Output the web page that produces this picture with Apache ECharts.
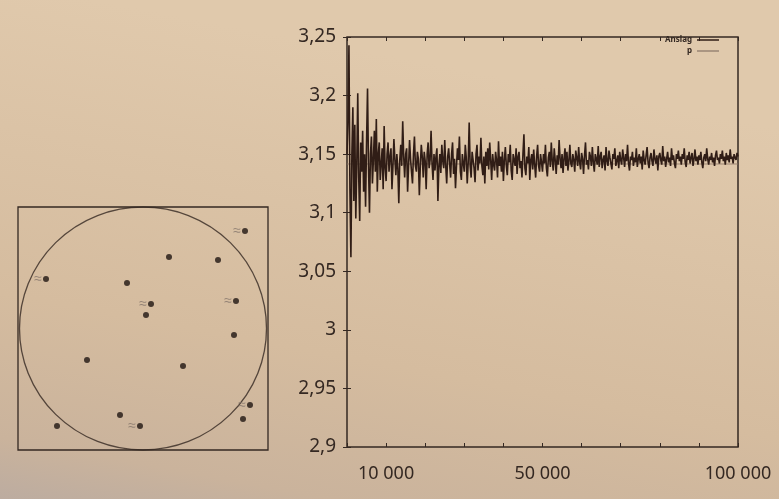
<!DOCTYPE html>
<html>
<head>
<meta charset="utf-8">
<script src="https://cdn.jsdelivr.net/npm/echarts@6/dist/echarts.min.js"></script>
<style>
  html, body { margin: 0; padding: 0; }
  #main { width: 779px; height: 499px; }
</style>
</head>
<body>
<div id="main"></div>
<script>
// running estimate of pi, one value every 250 samples (0 .. 100 000)
var sampleStep = 250;
var estimates = [
    3.150, 3.180, 3.243, 3.120, 3.062, 3.150, 3.190, 3.110, 3.175, 3.095,
    3.140, 3.202, 3.130, 3.093, 3.160, 3.135, 3.170, 3.118, 3.150, 3.105,
    3.160, 3.206, 3.140, 3.100, 3.150, 3.165, 3.125, 3.145, 3.170, 3.135,
    3.180, 3.118, 3.150, 3.160, 3.128, 3.142, 3.155, 3.120, 3.174, 3.138,
    3.127, 3.150, 3.160, 3.135, 3.148, 3.155, 3.120, 3.140, 3.163, 3.145,
    3.132, 3.150, 3.138, 3.108, 3.145, 3.158, 3.140, 3.178, 3.148, 3.130,
    3.150, 3.155, 3.118, 3.140, 3.162, 3.146, 3.135, 3.125, 3.150, 3.165,
    3.140, 3.135, 3.152, 3.146, 3.115, 3.140, 3.158, 3.148, 3.130, 3.152,
    3.144, 3.120, 3.150, 3.160, 3.138, 3.145, 3.170, 3.142, 3.128, 3.150,
    3.136, 3.148, 3.155, 3.110, 3.140, 3.150, 3.134, 3.158, 3.144, 3.138,
    3.162, 3.140, 3.125, 3.148, 3.155, 3.142, 3.130, 3.150, 3.160, 3.133,
    3.146, 3.121, 3.140, 3.155, 3.145, 3.165, 3.135, 3.128, 3.150, 3.142,
    3.135, 3.158, 3.147, 3.125, 3.143, 3.177, 3.140, 3.130, 3.152, 3.145,
    3.138, 3.126, 3.150, 3.158, 3.136, 3.148, 3.142, 3.164, 3.140, 3.132,
    3.148, 3.125, 3.152, 3.140, 3.155, 3.137, 3.160, 3.145, 3.128, 3.150,
    3.141, 3.136, 3.152, 3.145, 3.130, 3.161, 3.140, 3.148, 3.135, 3.152,
    3.127, 3.145, 3.156, 3.140, 3.132, 3.150, 3.143, 3.158, 3.136, 3.128,
    3.150, 3.145, 3.140, 3.155, 3.133, 3.148, 3.152, 3.138, 3.144, 3.130,
    3.150, 3.167, 3.138, 3.132, 3.148, 3.142, 3.156, 3.128, 3.145, 3.150,
    3.137, 3.154, 3.141, 3.130, 3.148, 3.158, 3.140, 3.135, 3.150, 3.143,
    3.135, 3.150, 3.142, 3.158, 3.138, 3.131, 3.147, 3.152, 3.139, 3.160,
    3.144, 3.136, 3.155, 3.145, 3.133, 3.149, 3.141, 3.162, 3.146, 3.138,
    3.150, 3.134, 3.146, 3.155, 3.140, 3.152, 3.136, 3.144, 3.158, 3.142,
    3.139, 3.150, 3.145, 3.135, 3.153, 3.147, 3.140, 3.156, 3.143, 3.137,
    3.151, 3.146, 3.133, 3.149, 3.160, 3.141, 3.145, 3.137, 3.152, 3.148,
    3.140, 3.156, 3.143, 3.135, 3.150, 3.146, 3.141, 3.157, 3.139, 3.148,
    3.152, 3.138, 3.145, 3.149, 3.136, 3.156, 3.144, 3.140, 3.153, 3.147,
    3.142, 3.137, 3.150, 3.146, 3.155, 3.140, 3.144, 3.149, 3.138, 3.152,
    3.145, 3.141, 3.154, 3.147, 3.139, 3.150, 3.144, 3.158, 3.142, 3.136,
    3.148, 3.145, 3.152, 3.140, 3.147, 3.143, 3.155, 3.139, 3.146, 3.150,
    3.142, 3.148, 3.137, 3.153, 3.145, 3.141, 3.149, 3.156, 3.143, 3.138,
    3.147, 3.151, 3.144, 3.140, 3.154, 3.146, 3.142, 3.149, 3.136, 3.148,
    3.151, 3.145, 3.141, 3.157, 3.144, 3.148, 3.139, 3.146, 3.152, 3.143,
    3.147, 3.140, 3.155, 3.145, 3.149, 3.142, 3.138, 3.150, 3.146, 3.153,
    3.144, 3.148, 3.141, 3.150, 3.146, 3.155, 3.143, 3.139, 3.149, 3.145,
    3.152, 3.142, 3.147, 3.151, 3.140, 3.146, 3.154, 3.144, 3.148, 3.141,
    3.149, 3.145, 3.152, 3.143, 3.138, 3.147, 3.150, 3.144, 3.155, 3.146,
    3.141, 3.148, 3.145, 3.151, 3.143, 3.147, 3.140, 3.149, 3.153, 3.145,
    3.147, 3.142, 3.150, 3.146, 3.153, 3.144, 3.148, 3.141, 3.151, 3.145,
    3.149, 3.143, 3.154, 3.146, 3.148, 3.142, 3.150, 3.147, 3.145, 3.151,
    3.148
];
var piValue = 3.14159;
var seriesNames = ['Anslag', 'p'];
var xLabelValues = [10000, 50000, 100000];

// random points thrown in the unit square (left figure)
var dots = [
    [0.908, 0.901], [0.604, 0.794], [0.800, 0.782], [0.112, 0.704],
    [0.436, 0.687], [0.532, 0.601], [0.872, 0.613], [0.512, 0.556],
    [0.864, 0.473], [0.276, 0.370], [0.660, 0.346], [0.928, 0.185],
    [0.900, 0.128], [0.408, 0.144], [0.488, 0.099], [0.156, 0.099]
];
// indexes of the dots drawn with little motion marks
var movingDots = [0, 3, 5, 6, 11, 14];
var circleCenter = [[0.5, 0.5]];

var ink = '#342822';

var chart = echarts.init(document.getElementById('main'));

var estimateData = estimates.map(function(v, i) {
    return [i * sampleStep, v];
});
var piData = [[0, piValue], [100000, piValue]];

var dotData = dots.map(function(d, i) {
    var item = { value: d };
    if (movingDots.indexOf(i) >= 0) {
        item.label = {
            show: true,
            formatter: '\u2248',
            position: 'left',
            distance: 1,
            color: '#85766b',
            fontSize: 14
        };
    }
    return item;
});

function fmtComma(v) {
    return String(Math.round(v * 100) / 100).replace('.', ',');
}

var option = {
    animation: false,
    backgroundColor: {
        type: 'linear', x: 0.12, y: 0, x2: 0, y2: 1,
        colorStops: [
            { offset: 0, color: '#e0c9ac' },
            { offset: 0.6, color: '#d5bc9f' },
            { offset: 0.88, color: '#cab39c' },
            { offset: 1, color: '#bcaca0' }
        ]
    },
    textStyle: { fontFamily: '"Noto Sans", sans-serif' },
    legend: {
        orient: 'vertical',
        right: 55,
        top: 31,
        align: 'right',
        itemGap: 3,
        itemWidth: 22,
        itemHeight: 1.5,
        icon: 'rect',
        textStyle: { fontSize: 8, color: ink, fontWeight: 'bold' },
        data: seriesNames
    },
    grid: [{
        left: 347,
        top: 37,
        width: 391,
        height: 410,
        show: true,
        borderColor: ink,
        borderWidth: 1.5
    }, {
        left: 18,
        top: 207,
        width: 250,
        height: 243,
        show: true,
        borderColor: ink,
        borderWidth: 1.3
    }],
    xAxis: [{
        type: 'value',
        gridIndex: 0,
        min: 0,
        max: 100000,
        interval: 10000,
        axisLine: { show: false },
        splitLine: { show: false },
        axisTick: { inside: true, length: 4, lineStyle: { color: ink } },
        axisLabel: {
            customValues: xLabelValues,
            margin: 18,
            fontSize: 18,
            color: ink,
            formatter: function(v) {
                return String(v).replace(/\B(?=(\d{3})+(?!\d))/g, ' ');
            }
        }
    }, {
        type: 'value',
        gridIndex: 0,
        position: 'top',
        min: 0,
        max: 100000,
        interval: 10000,
        axisLine: { show: false },
        splitLine: { show: false },
        axisTick: { inside: true, length: 4, lineStyle: { color: ink } },
        axisLabel: { show: false }
    }, {
        type: 'value',
        gridIndex: 1,
        min: 0,
        max: 1,
        show: false
    }],
    yAxis: [{
        type: 'value',
        gridIndex: 0,
        min: 2.9,
        max: 3.25,
        interval: 0.05,
        axisLine: { show: false },
        splitLine: { show: false },
        axisTick: { inside: true, length: 4, lineStyle: { color: ink } },
        axisLabel: {
            margin: 11,
            fontSize: 19,
            color: ink,
            formatter: fmtComma
        }
    }, {
        type: 'value',
        gridIndex: 0,
        position: 'right',
        min: 2.9,
        max: 3.25,
        interval: 0.05,
        axisLine: { show: false },
        splitLine: { show: false },
        axisTick: { inside: true, length: 4, lineStyle: { color: ink } },
        axisLabel: { show: false }
    }, {
        type: 'value',
        gridIndex: 1,
        min: 0,
        max: 1,
        show: false
    }],
    series: [{
        name: seriesNames[0],
        type: 'line',
        xAxisIndex: 0,
        yAxisIndex: 0,
        data: estimateData,
        showSymbol: false,
        silent: true,
        lineStyle: { color: '#301d16', width: 1.6 },
        itemStyle: { color: '#301d16' },
        z: 2
    }, {
        name: seriesNames[1],
        type: 'line',
        xAxisIndex: 0,
        yAxisIndex: 0,
        data: piData,
        showSymbol: false,
        silent: true,
        lineStyle: { color: '#8c7565', width: 0.8 },
        itemStyle: { color: '#9a8474' },
        z: 1
    }, {
        type: 'scatter',
        xAxisIndex: 2,
        yAxisIndex: 2,
        data: circleCenter,
        symbol: 'circle',
        symbolSize: [247, 243],
        silent: true,
        itemStyle: { color: 'rgba(0,0,0,0)', borderColor: ink, borderWidth: 1.3 },
        z: 1
    }, {
        type: 'scatter',
        xAxisIndex: 2,
        yAxisIndex: 2,
        data: dotData,
        symbol: 'circle',
        symbolSize: 6,
        silent: true,
        itemStyle: { color: '#1f1511' },
        z: 3
    }]
};

chart.setOption(option);
</script>
</body>
</html>
